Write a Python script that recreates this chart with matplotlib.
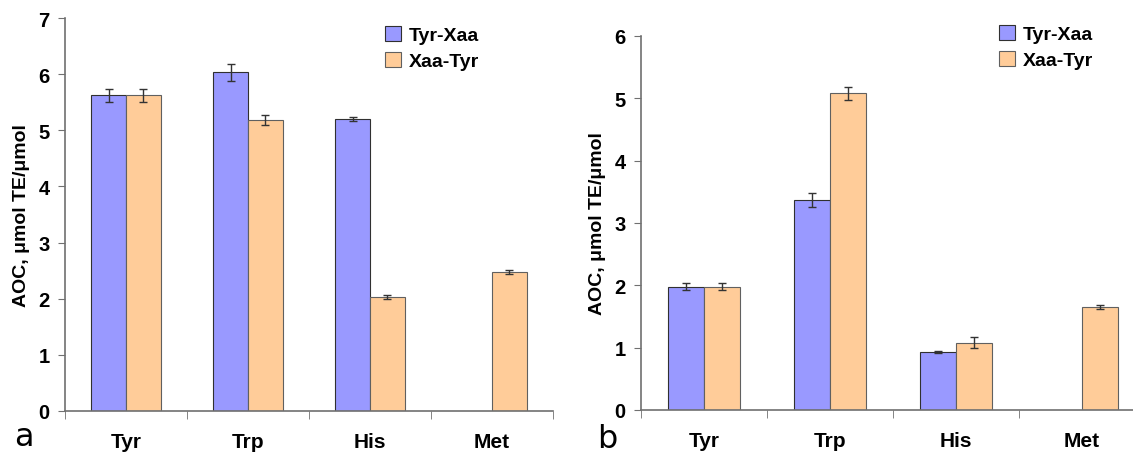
import matplotlib
matplotlib.use("Agg")
import matplotlib.pyplot as plt
from matplotlib.patches import Patch
import numpy as np

plt.rcParams["font.family"] = ["Liberation Sans", "DejaVu Sans"]

categories = ["Tyr", "Trp", "His", "Met"]
series_names = ["Tyr-Xaa", "Xaa-Tyr"]

# panel a
a_tyr_xaa = [5.62, 6.03, 5.20, np.nan]
a_tyr_xaa_err = [0.11, 0.15, 0.04, np.nan]
a_xaa_tyr = [5.62, 5.18, 2.03, 2.48]
a_xaa_tyr_err = [0.11, 0.09, 0.04, 0.04]

# panel b
b_tyr_xaa = [1.98, 3.37, 0.93, np.nan]
b_tyr_xaa_err = [0.06, 0.11, 0.015, np.nan]
b_xaa_tyr = [1.98, 5.08, 1.08, 1.65]
b_xaa_tyr_err = [0.06, 0.10, 0.09, 0.03]

blue = "#9999FF"
orange = "#FFCC99"
W, H = 1133, 456


def draw_panel(ax, v1, e1, v2, e2, ymax, leg_xy):
    x = np.arange(len(categories)) + 0.5
    bw = 0.285
    ax.bar(x - bw / 2, v1, bw, color=blue, edgecolor="#303030", linewidth=0.8)
    ax.bar(x + bw / 2, v2, bw, color=orange, edgecolor="#606060", linewidth=0.8)
    ax.errorbar(x - bw / 2, v1, yerr=e1, fmt="none", ecolor="#333333",
                elinewidth=1, capsize=3, capthick=1)
    ax.errorbar(x + bw / 2, v2, yerr=e2, fmt="none", ecolor="#333333",
                elinewidth=1, capsize=3, capthick=1)

    ax.set_xlim(0, len(categories))
    ax.set_ylim(0, ymax)
    ax.set_yticks(range(ymax + 1))
    ax.set_xticks(x)
    ax.set_xticklabels(categories, fontsize=15, fontweight="bold")
    ax.set_xticks(np.arange(len(categories) + 1), minor=True)
    ax.tick_params(axis="x", which="major", length=0, pad=15)
    ax.tick_params(axis="x", which="minor", length=6, color="#707070")
    ax.tick_params(axis="y", length=5, color="#707070", labelsize=14.5, pad=6)
    for lab in ax.get_yticklabels():
        lab.set_fontweight("bold")

    for s in ["top", "right"]:
        ax.spines[s].set_visible(False)
    for s in ["left", "bottom"]:
        ax.spines[s].set_color("#707070")
        ax.spines[s].set_linewidth(1.2)

    ax.set_ylabel("AOC, \u03bcmol TE/\u03bcmol", fontsize=14, fontweight="bold",
                  labelpad=6)

    handles = [Patch(facecolor=blue, edgecolor="#303030", linewidth=0.8),
               Patch(facecolor=orange, edgecolor="#606060", linewidth=0.8)]
    ax.legend(handles, series_names, loc="upper left", bbox_to_anchor=leg_xy,
              frameon=False, prop={"weight": "bold", "size": 14},
              handlelength=0.8, handleheight=0.8, handletextpad=0.4,
              labelspacing=0.4, borderaxespad=0)


fig = plt.figure(figsize=(W / 100, H / 100), dpi=100)

ax1 = fig.add_axes([65 / W, 1 - 412 / H, 488 / W, 393 / H])
draw_panel(ax1, a_tyr_xaa, a_tyr_xaa_err, a_xaa_tyr, a_xaa_tyr_err, 7,
           (0.64, 1.0))

ax2 = fig.add_axes([641 / W, 1 - 411 / H, 504 / W, 374 / H])
draw_panel(ax2, b_tyr_xaa, b_tyr_xaa_err, b_xaa_tyr, b_xaa_tyr_err, 6,
           (0.695, 1.05))

fig.text(14 / W, 1 - 438 / H, "a", fontsize=23, ha="left", va="center",
         family="DejaVu Sans")
fig.text(597 / W, 1 - 440 / H, "b", fontsize=23, ha="left", va="center",
         family="DejaVu Sans")

fig.savefig("out.png", dpi=100)
